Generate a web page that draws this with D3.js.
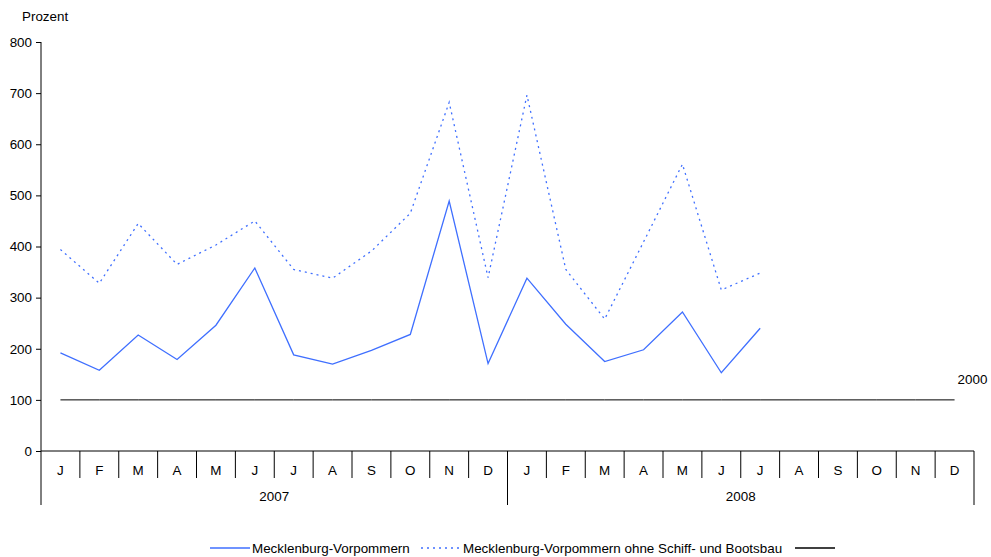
<!DOCTYPE html>
<html>
<head>
<meta charset="utf-8">
<script src="https://cdn.jsdelivr.net/npm/d3@7"></script>
<style>
  body { margin: 0; background: #fff; }
  text { font-family: "Liberation Sans", Arial, sans-serif; font-size: 13.4px; fill: #000; }
</style>
</head>
<body>
<svg width="991" height="557"></svg>
<script>
var months = ["J","F","M","A","M","J","J","A","S","O","N","D"];
var years = ["2007", "2008"];
var yTicks = [0, 100, 200, 300, 400, 500, 600, 700, 800];
var mv = [192, 158, 227, 179, 246, 358, 188, 170, 197, 228, 489, 171,
          338, 248, 175, 198, 272, 153, 240];
var mvOhne = [394, 328, 445, 365, 403, 450, 355, 338, 391, 465, 682, 339,
              696, 355, 258, 409, 561, 315, 348];
var basis = 100;
var seriesNames = ["Mecklenburg-Vorpommern", "Mecklenburg-Vorpommern ohne Schiff- und Bootsbau", ""];

var blue = "#3f6fff";

var svg = d3.select("svg"),
    margin = {top: 42, left: 41, right: 17, bottom: 106},
    width = 991 - margin.left - margin.right,
    height = 557 - margin.top - margin.bottom;

var cats = [];
years.forEach(function(yr) {
  months.forEach(function(m, i) { cats.push(yr + "-" + i); });
});

var x = d3.scaleBand().domain(cats).range([0, width]),
    y = d3.scaleLinear().domain([0, 800]).range([height, 0]);

var g = svg.append("g")
    .attr("transform", "translate(" + margin.left + "," + margin.top + ")");

// y axis
var yAxis = g.append("g")
    .call(d3.axisLeft(y).tickValues(yTicks).tickSize(5).tickPadding(4));
yAxis.select(".domain").remove();
yAxis.selectAll("line").attr("stroke", "#000");
yAxis.selectAll("text").style("font-size", "13.4px").attr("font-family", null);
g.append("line")
    .attr("x1", 0).attr("x2", 0)
    .attr("y1", 0).attr("y2", height + 54)
    .attr("stroke", "#000");

svg.append("text").attr("x", 22).attr("y", 21).text("Prozent");

// x axis
g.append("line")
    .attr("x1", 0).attr("x2", width)
    .attr("y1", height).attr("y2", height)
    .attr("stroke", "#000");

g.selectAll(".mtick")
    .data(cats.slice(1))
    .enter().append("line")
    .attr("x1", function(d) { return x(d); })
    .attr("x2", function(d) { return x(d); })
    .attr("y1", height)
    .attr("y2", function(d, i) { return (i + 1) % 12 === 0 ? height + 54 : height + 27; })
    .attr("stroke", "#000");

g.append("line")
    .attr("x1", width).attr("x2", width)
    .attr("y1", height).attr("y2", height + 54)
    .attr("stroke", "#000");

g.selectAll(".mlabel")
    .data(cats)
    .enter().append("text")
    .attr("x", function(d) { return x(d) + x.bandwidth() / 2; })
    .attr("y", height + 24)
    .attr("text-anchor", "middle")
    .text(function(d) { return months[+d.split("-")[1]]; });

g.selectAll(".ylabel")
    .data(years)
    .enter().append("text")
    .attr("x", function(d) { return (x(d + "-0") + x(d + "-11") + x.bandwidth()) / 2; })
    .attr("y", height + 50)
    .attr("text-anchor", "middle")
    .text(function(d) { return d; });

// lines
var line = d3.line()
    .x(function(d, i) { return x(cats[i]) + x.bandwidth() / 2; })
    .y(function(d) { return y(d); });

g.append("path")
    .datum(cats.map(function() { return basis; }))
    .attr("d", line)
    .attr("fill", "none")
    .attr("stroke", "#000")
    .attr("stroke-width", 1);

g.append("text")
    .attr("x", x(cats[23]) + x.bandwidth() / 2 + 3)
    .attr("y", y(basis) - 16)
    .text("2000");

g.append("path")
    .datum(mvOhne)
    .attr("d", line)
    .attr("fill", "none")
    .attr("stroke", blue)
    .attr("stroke-width", 1.3)
    .attr("stroke-dasharray", "2,4");

g.append("path")
    .datum(mv)
    .attr("d", line)
    .attr("fill", "none")
    .attr("stroke", blue)
    .attr("stroke-width", 1.3);

// legend
var legend = [
  {x: 210, stroke: blue, dash: null},
  {x: 421, stroke: blue, dash: "2,4"},
  {x: 795, stroke: "#000", dash: null}
];
var lg = svg.append("g");
legend.forEach(function(l, i) {
  lg.append("line")
    .attr("x1", l.x).attr("x2", l.x + 40)
    .attr("y1", 548).attr("y2", 548)
    .attr("stroke", l.stroke)
    .attr("stroke-width", 1.3)
    .attr("stroke-dasharray", l.dash);
  lg.append("text")
    .attr("x", l.x + 42)
    .attr("y", 553)
    .text(seriesNames[i]);
});
</script>
</body>
</html>
